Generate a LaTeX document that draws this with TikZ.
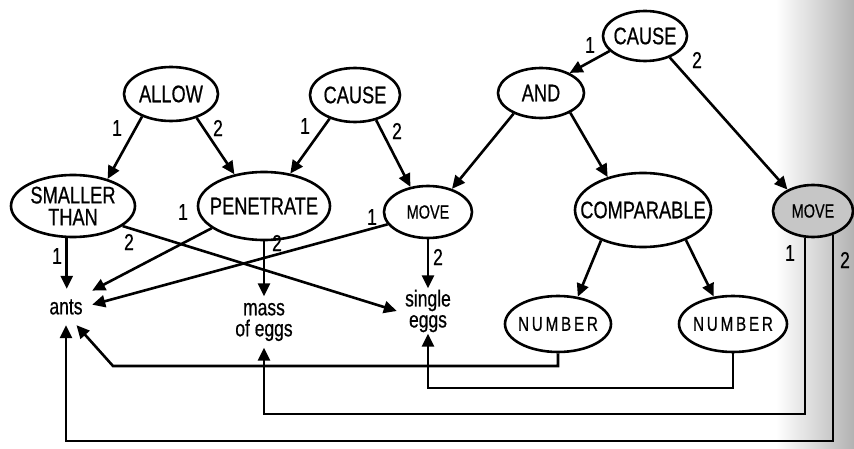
\documentclass[tikz,border=0pt]{standalone}
\usepackage{fontspec}
\setmainfont{Liberation Sans}[FakeStretch=0.76, FakeBold=0.6]
\newfontfamily\spacedfont{Liberation Sans}[FakeStretch=0.76, FakeBold=0.6, LetterSpace=14]
\usetikzlibrary{arrows.meta,shapes.geometric}
\newcommand\ndfont{\fontsize{24}{22}\selectfont}
\newcommand\smfont{\fontsize{19}{19}\selectfont}
\newcommand\numfont{\spacedfont\fontsize{20}{20}\selectfont}
\newcommand\lowfont{\fontsize{23}{21}\selectfont}
\newcommand\lbfont{\fontsize{23}{23}\selectfont}
\begin{document}
\begin{tikzpicture}[x=1pt,y=-1pt,
  ell/.style={draw, ellipse, line width=2.6pt, inner sep=0pt, fill=white},
  txt/.style={font=\ndfont, align=center, inner sep=0pt},
  word/.style={font=\lowfont, align=center, inner sep=0pt},
  lab/.style={font=\lbfont, inner sep=0pt},
  arr/.style={line width=2.6pt, -{Triangle[length=13pt,width=12pt]}}]
\useasboundingbox (0,0) rectangle (854,449);

% shaded page edge on the right
\shade[left color=white, right color=gray!60] (776,0) rectangle (854,449);

% concept ellipses
\node[ell, minimum width=124pt, minimum height=62pt,
      label={[txt]center:{SMALLER\\THAN}}] (smaller) at (73,206) {};
\node[ell, minimum width=94pt, minimum height=54pt,
      label={[txt]center:ALLOW}] (allow) at (171,94) {};
\node[ell, minimum width=90pt, minimum height=54pt,
      label={[txt]center:CAUSE}] (causem) at (355,95) {};
\node[ell, minimum width=132pt, minimum height=68pt,
      label={[txt]center:PENETRATE}] (pen) at (264,206) {};
\node[ell, minimum width=88pt, minimum height=52pt,
      label={[txt,font=\smfont]center:MOVE}] (movem) at (428,212) {};
\node[ell, minimum width=84pt, minimum height=50pt,
      label={[txt]center:CAUSE}] (causet) at (645,36) {};
\node[ell, minimum width=86pt, minimum height=50pt,
      label={[txt]center:AND}] (and) at (541,93) {};
\node[ell, minimum width=136pt, minimum height=74pt,
      label={[txt]center:COMPARABLE}] (comp) at (643,210) {};
\node[ell, fill=gray!45, minimum width=80pt, minimum height=52pt,
      label={[txt,font=\smfont]center:MOVE}] (mover) at (813,211) {};
\node[ell, minimum width=106pt, minimum height=56pt,
      label={[txt,font=\numfont]center:NUMBER}] (numl) at (558,324) {};
\node[ell, minimum width=108pt, minimum height=56pt,
      label={[txt,font=\numfont]center:NUMBER}] (numr) at (733,324) {};

% plain word nodes
\node[word, minimum width=52pt, minimum height=36pt] (ants) at (66,307) {ants};
\node[word, minimum width=62pt, minimum height=51pt] (mass) at (264,322) {mass\\of eggs};
\node[word, minimum width=62pt, minimum height=45pt] (single) at (428,311) {single\\eggs};

% routing levels for the long return lines
\coordinate (lvB) at (0,388);
\coordinate (lvC) at (0,414);
\coordinate (lvD) at (0,441);
\coordinate (bendA) at (113,366);

% straight connectors
\draw[arr] (allow.218) -- (smaller.38);
\draw[arr] (allow.317) -- (pen.133);
\draw[arr] (causem.223) -- (pen.51);
\draw[arr] (causem.310) -- (movem.125);
\draw[arr] (causet.203) -- (and.35);
\draw[arr] (causet.319) -- (mover.140);
\draw[arr] (and.217) -- (movem.44);
\draw[arr] (and.326) -- (comp.137);
\draw[arr] (comp.216) -- (numl.54);
\draw[arr] (comp.325) -- (numr.125);
\draw[arr] (smaller.259) -- (smaller.259 |- ants.north);
\draw[arr] (smaller.338) -- (single.west);
\draw[arr] (pen.203) -- (ants.32);
\draw[arr] (pen.south) -- (mass.north);
\draw[arr] (movem.197) -- (ants.5);
\draw[arr] (movem.south) -- (single.north);

% routed connectors along the bottom
\draw[arr] (numl.south) |- (bendA) -- (ants.-60);
\draw[arr] (numr.south) |- (single.south |- lvB) -- (single.south);
\draw[arr] (mover.253) |- (mass.south |- lvC) -- (mass.south);
\draw[arr] (mover.310) |- (ants.south |- lvD) -- (ants.south);

% argument numbers
\node[lab] (a1) at (117,128) {1};
\node[lab] (a2) at (218,128) {2};
\node[lab] (c1) at (305,126) {1};
\node[lab] (c2) at (397,131) {2};
\node[lab] (t1) at (590,45) {1};
\node[lab] (t2) at (697,60) {2};
\node[lab] (s1) at (57,256) {1};
\node[lab] (s2) at (129,242) {2};
\node[lab] (p1) at (183,212) {1};
\node[lab] (p2) at (277,243) {2};
\node[lab] (m1) at (372,217) {1};
\node[lab] (m2) at (438,257) {2};
\node[lab] (r1) at (790,253) {1};
\node[lab] (r2) at (845,260) {2};
\end{tikzpicture}
\end{document}
